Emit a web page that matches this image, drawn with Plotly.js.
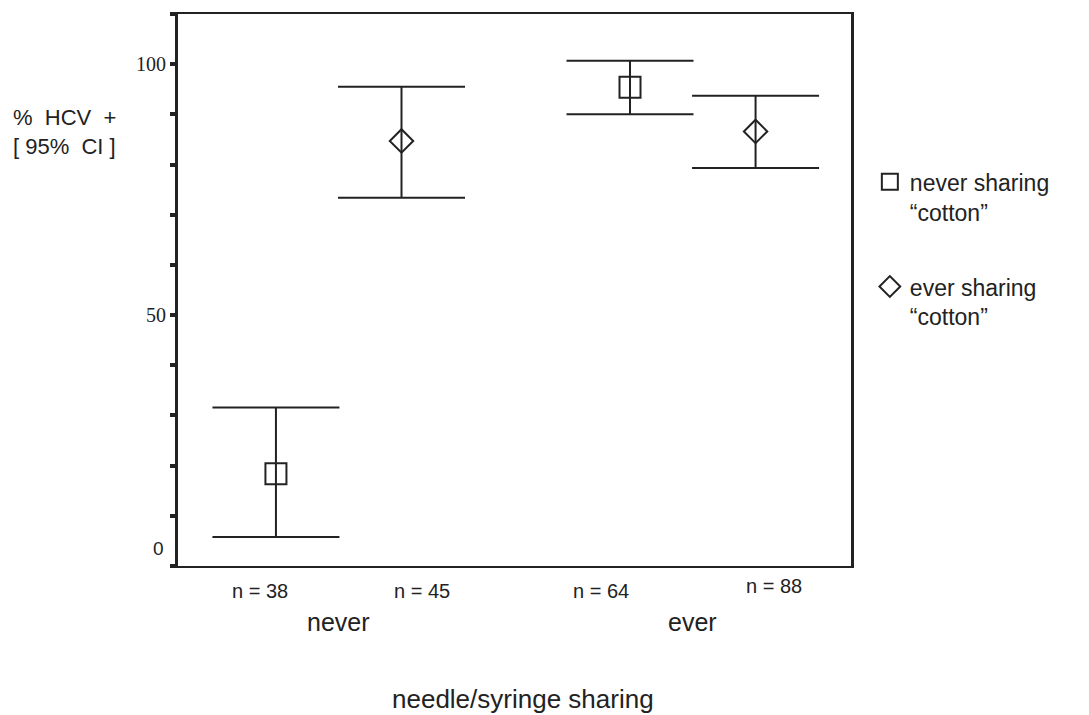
<!DOCTYPE html>
<html>
<head>
<meta charset="utf-8">
<script src="https://cdn.plot.ly/plotly-3.0.1.min.js"></script>
<style>html,body{margin:0;padding:0;background:#fff;}#chart{width:1089px;height:715px;}</style>
</head>
<body>
<div id="chart"></div>
<script>
// ---- data ----
const seriesNames = ['never sharing<br>\u201Ccotton\u201D', 'ever sharing<br>\u201Ccotton\u201D'];
const groupLabels = ['never', 'ever'];
const nLabels = ['n = 38', 'n = 45', 'n = 64', 'n = 88'];
// x positions of the four estimates (needle sharing never: cotton never/ever; needle ever: cotton never/ever)
const xNeverCotton = [1, 3.82];
const xEverCotton = [2, 4.82];
const meanNeverCotton = [18.4, 95.4];
const upperNeverCotton = [31.6, 100.7];
const lowerNeverCotton = [5.8, 90.0];
const meanEverCotton = [84.7, 86.6];
const upperEverCotton = [95.5, 93.7];
const lowerEverCotton = [73.4, 79.3];
const yTickVals = [0, 10, 20, 30, 40, 50, 60, 70, 80, 90, 100, 110];
const yTickText = ['', '', '', '', '', '50', '', '', '', '', '100', ''];

// ---- build ----
const ink = '#222';
const sans = 'Liberation Sans, Arial, sans-serif';
const serif = 'Liberation Serif, Times New Roman, serif';

function errs(mean, up, lo) {
  return {
    plus: mean.map((m, i) => up[i] - m),
    minus: mean.map((m, i) => m - lo[i])
  };
}
const e1 = errs(meanNeverCotton, upperNeverCotton, lowerNeverCotton);
const e2 = errs(meanEverCotton, upperEverCotton, lowerEverCotton);

const traces = [
  {
    type: 'scatter', mode: 'markers', name: seriesNames[0], legendgroup: 'a',
    x: xNeverCotton, y: meanNeverCotton,
    marker: {symbol: 'square-open', size: 21, color: ink, line: {width: 2, color: ink}},
    error_y: {type: 'data', symmetric: false, array: e1.plus, arrayminus: e1.minus,
      thickness: 2, width: 63.5, color: ink},
    cliponaxis: false
  },
  {
    type: 'scatter', mode: 'markers', name: seriesNames[1], legendgroup: 'b',
    x: xEverCotton, y: meanEverCotton,
    marker: {symbol: 'diamond-open', size: 18, color: ink, line: {width: 2, color: ink}},
    error_y: {type: 'data', symmetric: false, array: e2.plus, arrayminus: e2.minus,
      thickness: 2, width: 63.5, color: ink},
    cliponaxis: false
  }
];

const allX = xNeverCotton.concat(xEverCotton).sort((a, b) => a - b);
const nShift = [-16, 20, -29, 18];
const nYShift = [-12, -12, -12, -7];
const annotations = [];
allX.forEach((xv, i) => {
  annotations.push({
    x: xv, xref: 'x', y: 0, yref: 'paper', yanchor: 'top', xanchor: 'center',
    xshift: nShift[i], yshift: nYShift[i], showarrow: false,
    text: nLabels[i], font: {family: sans, size: 20, color: ink}
  });
});
groupLabels.forEach((g, gi) => {
  annotations.push({
    x: (allX[2 * gi] + allX[2 * gi + 1]) / 2, xref: 'x', y: 0, yref: 'paper',
    yanchor: 'top', xanchor: 'center', yshift: -40, showarrow: false,
    text: g, font: {family: sans, size: 25, color: ink}
  });
});
annotations.push({
  x: 0.5, xref: 'paper', xshift: 8, y: 0, yref: 'paper', yanchor: 'top', yshift: -116,
  showarrow: false, text: 'needle/syringe sharing', font: {family: sans, size: 26, color: ink}
});
annotations.push({
  x: 0, xref: 'paper', xanchor: 'left', xshift: -167, y: 1, yref: 'paper', yanchor: 'top', yshift: -89,
  showarrow: false, align: 'left', text: '%\u00A0\u00A0HCV\u00A0\u00A0+<br>[\u00A095%\u00A0\u00A0CI\u00A0]',
  font: {family: sans, size: 22, color: ink}
});
annotations.push({
  x: 0, xref: 'paper', xanchor: 'right', xshift: -12, y: 0, yref: 'y', yanchor: 'middle', yshift: 18,
  showarrow: false, text: '0', font: {family: sans, size: 19, color: ink}
});

const layout = {
  width: 1089, height: 715,
  margin: {l: 178, r: 238, t: 14, b: 149, pad: 0},
  paper_bgcolor: '#fff', plot_bgcolor: '#fff',
  showlegend: true,
  legend: {
    x: 1.028, xanchor: 'left', y: 0.735, yanchor: 'top',
    font: {family: sans, size: 23, color: ink}, valign: 'top',
    traceorder: 'grouped', tracegroupgap: 42, bgcolor: 'rgba(0,0,0,0)',
    itemsizing: 'trace'
  },
  xaxis: {
    range: [0.22, 5.58], showgrid: false, zeroline: false, showticklabels: false, ticks: '',
    showline: true, mirror: true, linewidth: 2, linecolor: ink, fixedrange: true
  },
  yaxis: {
    range: [0, 110], tickmode: 'array', tickvals: yTickVals, ticktext: yTickText,
    ticks: 'outside', ticklen: 5, tickwidth: 4, tickcolor: ink,
    tickfont: {family: serif, size: 20, color: ink},
    showgrid: false, zeroline: false, showline: true, mirror: true, linewidth: 3, linecolor: ink,
    fixedrange: true
  },
  annotations: annotations
};

Plotly.newPlot('chart', traces, layout, {displayModeBar: false, staticPlot: true});
</script>
</body>
</html>
